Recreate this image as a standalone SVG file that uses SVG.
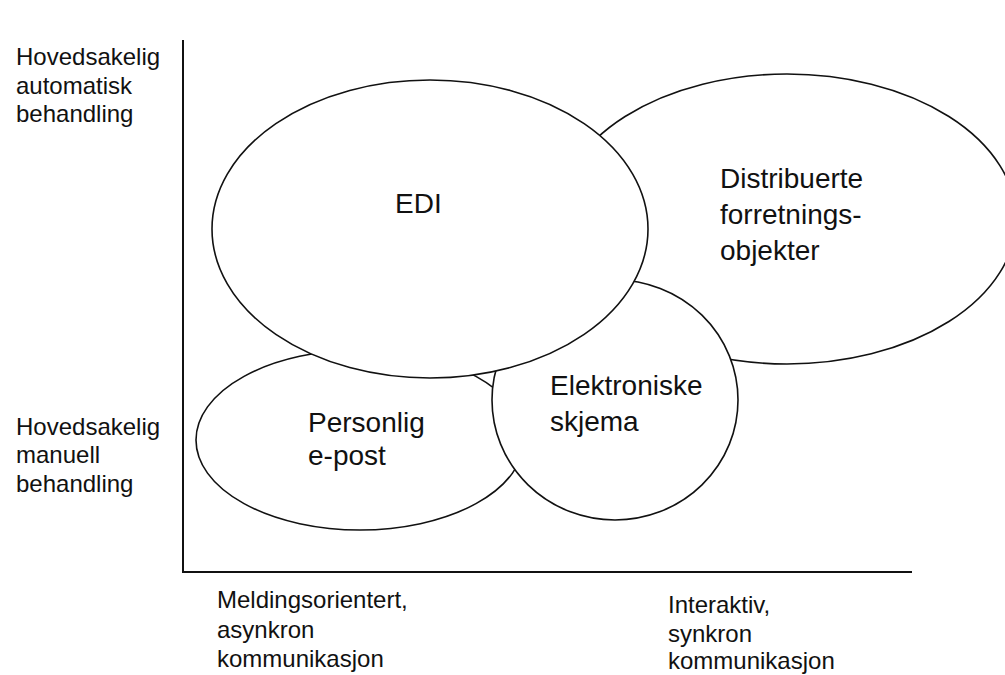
<svg xmlns="http://www.w3.org/2000/svg" width="1005" height="675" viewBox="0 0 1005 675">
  <style>
    .shape { fill: #ffffff; stroke: #111111; stroke-width: 1.6; }
    .axis { stroke: #111111; stroke-width: 2; fill: none; }
    .big { font-family: "Liberation Sans", Arial, Helvetica, sans-serif; font-size: 28px; fill: #111111; }
    .lbl { font-family: "Liberation Sans", Arial, Helvetica, sans-serif; font-size: 24px; fill: #111111; }
  </style>
  <rect x="0" y="0" width="1005" height="675" fill="#ffffff"/>

  <g id="connectors">
    <g id="axes">
      <line class="axis" x1="183" y1="40" x2="183" y2="572"/>
      <line class="axis" x1="182" y1="572" x2="912" y2="572"/>
    </g>
  </g>

  <g id="axis-labels">
    <text class="lbl" x="16"><tspan x="16" y="65">Hovedsakelig</tspan><tspan x="16" y="94">automatisk</tspan><tspan x="16" y="122">behandling</tspan></text>
    <text class="lbl" x="16"><tspan x="16" y="435">Hovedsakelig</tspan><tspan x="16" y="463">manuell</tspan><tspan x="16" y="492">behandling</tspan></text>
    <text class="lbl" x="217"><tspan x="217" y="608">Meldingsorientert,</tspan><tspan x="217" y="638">asynkron</tspan><tspan x="217" y="667">kommunikasjon</tspan></text>
    <text class="lbl" x="668"><tspan x="668" y="613">Interaktiv,</tspan><tspan x="668" y="642">synkron</tspan><tspan x="668" y="669">kommunikasjon</tspan></text>
  </g>

  <g id="node-distribuerte">
    <ellipse class="shape" cx="787" cy="219" rx="229" ry="145"/>
    <text class="big" x="720"><tspan x="720" y="188">Distribuerte</tspan><tspan x="720" y="224">forretnings-</tspan><tspan x="720" y="260">objekter</tspan></text>
  </g>

  <g id="node-personlig">
    <ellipse class="shape" cx="360" cy="440" rx="164" ry="90"/>
    <text class="big" x="308"><tspan x="308" y="432">Personlig</tspan><tspan x="308" y="465">e-post</tspan></text>
  </g>

  <g id="node-elektroniske">
    <ellipse class="shape" cx="615" cy="400" rx="123" ry="120"/>
    <text class="big" x="550"><tspan x="550" y="395">Elektroniske</tspan><tspan x="550" y="431">skjema</tspan></text>
  </g>

  <g id="node-edi">
    <ellipse class="shape" cx="430" cy="229" rx="218" ry="149"/>
    <text class="big" x="395" y="213">EDI</text>
  </g>
</svg>
